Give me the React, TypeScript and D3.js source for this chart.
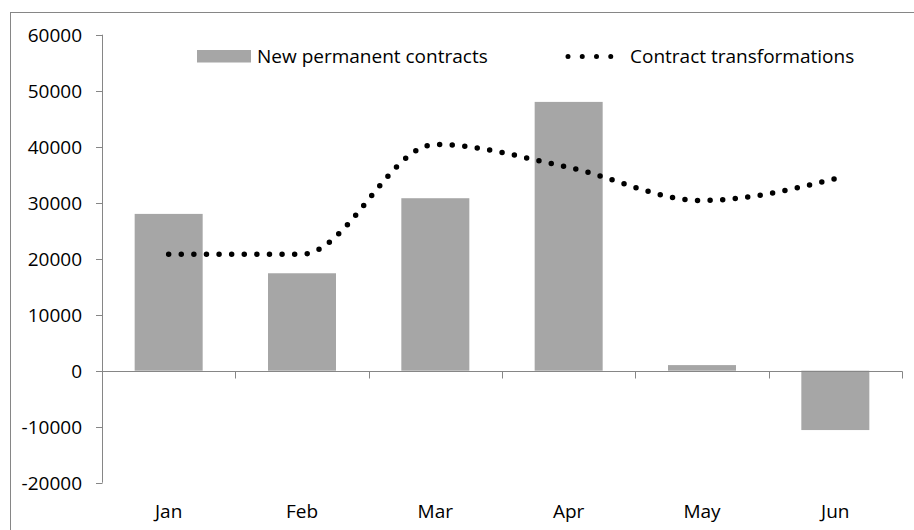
import React from "react";
import * as d3 from "d3";

const months = ["Jan", "Feb", "Mar", "Apr", "May", "Jun"];
const newPermanent = [28000, 17400, 30800, 48000, 1000, -10600];
const transformations = [20800, 20800, 40400, 36300, 30400, 34300];
const yTicks = [-20000, -10000, 0, 10000, 20000, 30000, 40000, 50000, 60000];
const legendLabels = ["New permanent contracts", "Contract transformations"];

const W = 914;
const H = 530;
const FONT = "'Open Sans', sans-serif";

export default function App() {
  const x = d3.scaleBand<string>().domain(months).range([102, 902]).paddingInner(0.49).paddingOuter(0.245);
  const xc = d3.scaleBand<string>().domain(months).range([102, 902]);
  const y = d3.scaleLinear().domain([-20000, 60000]).range([482.7, 34.7]);
  const center = (m: string) => (xc(m) as number) + xc.bandwidth() / 2;

  const line = d3
    .line<number>()
    .x((_, i) => center(months[i]))
    .y((d) => y(d))
    .curve(d3.curveMonotoneX);

  const axisColor = "#868686";
  const barColor = "#a6a6a6";
  const y0 = Math.round(y(0)) + 0.5;

  return (
    <svg width={W} height={H} style={{ position: "absolute", left: 0, top: 0 }} fontFamily={FONT}>
      <rect x={0} y={0} width={W} height={H} fill="#fff" />
      <rect x={10.5} y={12.5} width={W + 10} height={H + 10} fill="none" stroke={axisColor} strokeWidth={1} />

      {/* bars */}
      {months.map((m, i) => {
        const v = newPermanent[i];
        const top = y(Math.max(0, v));
        const bot = y(Math.min(0, v));
        return (
          <rect key={m} x={x(m)} y={top} width={x.bandwidth()} height={bot - top} fill={barColor} />
        );
      })}

      {/* y axis */}
      <line x1={102.5} x2={102.5} y1={y(60000)} y2={y(-20000)} stroke={axisColor} />
      {yTicks.map((t) => (
        <g key={t}>
          <line x1={96} x2={102.5} y1={Math.round(y(t)) + 0.5} y2={Math.round(y(t)) + 0.5} stroke={axisColor} />
          <text x={82} y={y(t)} dy="0.36em" textAnchor="end" fontSize={19} fill="#000">
            {t}
          </text>
        </g>
      ))}

      {/* x axis */}
      <line x1={102} x2={902.5} y1={y0} y2={y0} stroke={axisColor} />
      {months.map((m) => {
        const xr = Math.round((xc(m) as number) + xc.bandwidth()) + 0.5;
        return <line key={"t" + m} x1={xr} x2={xr} y1={y0} y2={y0 + 7} stroke={axisColor} />;
      })}
      {months.map((m) => (
        <text key={"l" + m} x={center(m)} y={511} dy="0.36em" textAnchor="middle" fontSize={19} fill="#000">
          {m}
        </text>
      ))}

      {/* line */}
      <path
        d={line(transformations) || ""}
        fill="none"
        stroke="#000"
        strokeWidth={5.5}
        strokeLinecap="round"
        strokeDasharray="0 12.6"
      />

      {/* legend */}
      <rect x={197} y={50} width={54} height={12.5} fill={barColor} />
      <text x={257} y={56} dy="0.36em" fontSize={19} fill="#000">
        {legendLabels[0]}
      </text>
      <line
        x1={568}
        x2={625}
        y1={56.5}
        y2={56.5}
        stroke="#000"
        strokeWidth={5}
        strokeLinecap="round"
        strokeDasharray="0 14.25"
      />
      <text x={630} y={56} dy="0.36em" fontSize={19} fill="#000">
        {legendLabels[1]}
      </text>
    </svg>
  );
}
